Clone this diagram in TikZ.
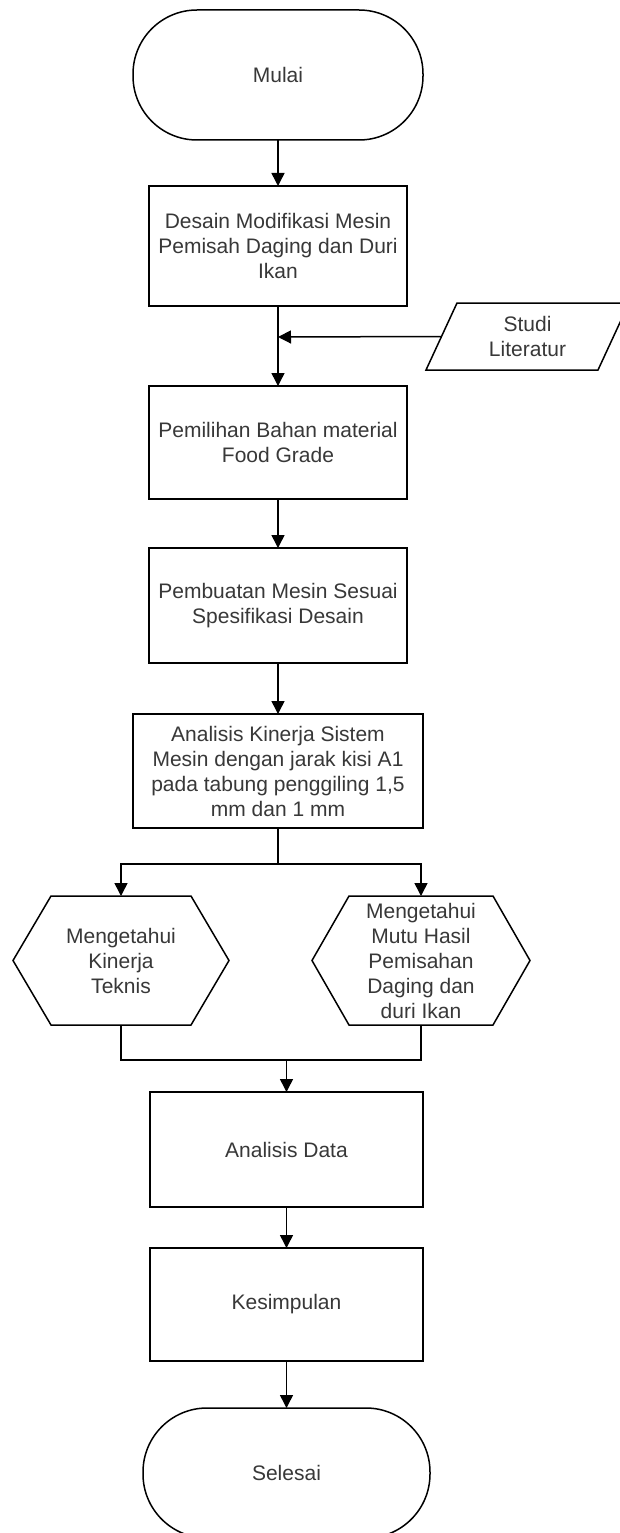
\documentclass[tikz,border=0pt]{standalone}
\usepackage{fontspec}
\setmainfont{Liberation Sans}
\usetikzlibrary{arrows.meta,calc}
\definecolor{txt}{rgb}{0.22,0.22,0.22}
\begin{document}
\begin{tikzpicture}[x=1pt,y=-1pt,line width=1.5pt,
  base/.style={inner sep=0pt, outer sep=0pt, align=center, text=txt, font=\fontsize{21}{25}\selectfont},
  proc/.style={base, draw, rectangle},
  term/.style={base, draw, rectangle, rounded corners=64pt},
  arr/.style={-{Triangle[length=13pt,width=13pt]}}]
\fill[white] (0,0) rectangle (620,1533);
\useasboundingbox (0,0) rectangle (620,1533);
\clip (0,0) rectangle (620,1533);

\node[term, minimum width=290pt, minimum height=130pt] (start) at (278,75) {Mulai};
\node[proc, minimum width=258pt, minimum height=120pt] (b1) at (278,246) {Desain Modifikasi Mesin\\Pemisah Daging dan Duri\\Ikan};
\node[base, minimum width=172pt, minimum height=67pt] (lit) at (527.5,336.5) {Studi\\Literatur};
\draw ($(lit.south west)+(-15.5,0)$) -- ($(lit.north west)+(15.5,0)$) -- ($(lit.north east)+(15.5,0)$) -- ($(lit.south east)+(-15.5,0)$) -- cycle;
\node[proc, minimum width=258pt, minimum height=113pt] (b2) at (278,442.5) {Pemilihan Bahan material\\Food Grade};
\node[proc, minimum width=258pt, minimum height=115pt] (b3) at (278,605.5) {Pembuatan Mesin Sesuai\\Spesifikasi Desain};
\node[proc, minimum width=290pt, minimum height=114pt] (b4) at (278,771) {Analisis Kinerja Sistem\\Mesin dengan jarak kisi A1\\pada tabung penggiling 1,5\\mm dan 1 mm};
\node[base, minimum width=216pt, minimum height=129pt] (hexL) at (121,960.5) {Mengetahui\\Kinerja\\Teknis};
\draw (hexL.west) -- ($(hexL.north west)+(38,0)$) -- ($(hexL.north east)+(-38,0)$) -- (hexL.east) -- ($(hexL.south east)+(-38,0)$) -- ($(hexL.south west)+(38,0)$) -- cycle;
\node[base, minimum width=218pt, minimum height=129pt] (hexR) at (421,960.5) {Mengetahui\\Mutu Hasil\\Pemisahan\\Daging dan\\duri Ikan};
\draw (hexR.west) -- ($(hexR.north west)+(37,0)$) -- ($(hexR.north east)+(-37,0)$) -- (hexR.east) -- ($(hexR.south east)+(-37,0)$) -- ($(hexR.south west)+(37,0)$) -- cycle;
\node[proc, minimum width=273pt, minimum height=115pt] (ad) at (286.5,1149.5) {Analisis Data};
\node[proc, minimum width=273pt, minimum height=113pt] (ks) at (286.5,1304.5) {Kesimpulan};
\node[term, minimum width=287pt, minimum height=130pt] (end) at (286.5,1473) {Selesai};

\coordinate (j1) at (278,337);
\coordinate (br) at (278,864);
\coordinate (jn) at (286.5,1060);

\draw[arr] (start.south) -- (b1.north);
\draw[arr] (b1.south) -- (b2.north);
\draw[arr] (lit.west) -- (j1);
\draw[arr] (b2.south) -- (b3.north);
\draw[arr] (b3.south) -- (b4.north);
\draw (b4.south) -- (br);
\draw[arr] (br) -| (hexL.north);
\draw[arr] (br) -| (hexR.north);
\draw (hexL.south) |- (jn);
\draw (hexR.south) |- (jn);
\draw[arr] (jn) -- (ad.north);
\draw[arr] (ad.south) -- (ks.north);
\draw[arr] (ks.south) -- (end.north);
\end{tikzpicture}
\end{document}
